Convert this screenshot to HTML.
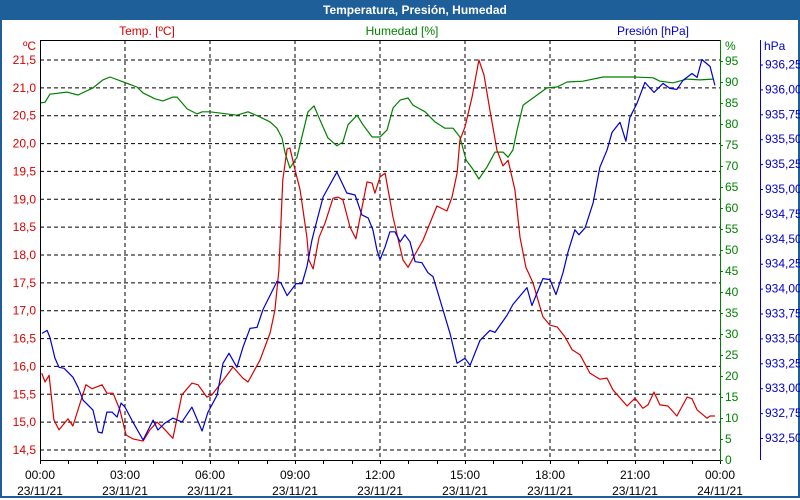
<!DOCTYPE html>
<html><head><meta charset="utf-8">
<style>
html,body{margin:0;padding:0;background:#fff;}
body{width:800px;height:500px;overflow:hidden;font-family:"Liberation Sans",Tahoma,sans-serif;}
#frame{position:absolute;left:0;top:0;width:796px;height:496px;border:2px solid #1f5f99;border-top:none;}
#titlebar{position:absolute;left:0;top:0;width:800px;height:20px;background:#1f5f99;color:#fff;font-weight:bold;font-size:12px;line-height:20px;text-align:center;}
</style></head><body>
<div id="frame"></div>
<div id="titlebar"><span style="position:absolute;left:323px">Temperatura, Presión, Humedad</span></div>
<svg id="chart" width="800" height="500" style="position:absolute;left:0;top:0" font-family="Liberation Sans, Tahoma, sans-serif" font-size="12"></svg>
<script>
const tempTimes=[0.06,0.18,0.32,0.49,0.67,0.99,1.16,1.62,1.84,2.19,2.36,2.58,2.82,3.04,3.28,3.64,3.88,4.13,4.34,4.69,5.01,5.36,5.58,5.89,6.07,6.42,6.81,7.16,7.34,7.76,8.12,8.29,8.43,8.57,8.72,8.82,9.0,9.18,9.42,9.49,9.64,9.85,10.06,10.34,10.52,10.69,10.94,11.15,11.54,11.72,11.82,12.0,12.18,12.46,12.81,12.99,13.16,13.52,14.01,14.36,14.54,14.72,14.82,15.0,15.25,15.49,15.67,15.88,16.13,16.34,16.52,16.76,16.94,17.15,17.4,17.75,18.0,18.25,18.53,18.78,19.06,19.41,19.76,20.01,20.22,20.72,21.0,21.28,21.46,21.67,21.88,22.16,22.48,22.84,23.01,23.19,23.54,23.65,23.82];
const tempValues=[15.88,15.72,15.84,15.04,14.86,15.06,14.93,15.67,15.6,15.67,15.52,15.52,15.22,14.77,14.7,14.66,14.86,15.0,14.9,14.71,15.49,15.7,15.67,15.45,15.49,15.72,15.99,15.79,15.72,16.11,16.6,17.01,17.73,19.35,19.9,19.92,19.53,19.17,18.32,17.91,17.75,18.32,18.57,19.02,19.04,18.99,18.5,18.29,19.31,19.29,19.11,19.4,19.47,18.68,17.91,17.78,17.94,18.27,18.88,18.79,19.04,19.47,20.06,20.3,20.84,21.5,21.23,20.6,19.88,19.6,19.7,19.17,18.32,17.78,17.5,16.89,16.74,16.71,16.53,16.3,16.21,15.88,15.77,15.79,15.58,15.29,15.43,15.25,15.31,15.54,15.31,15.29,15.11,15.45,15.42,15.22,15.07,15.11,15.11];
const humTimes=[0,0.18,0.35,0.95,1.34,1.87,2.22,2.47,3.42,3.64,4.06,4.34,4.69,4.84,5.19,5.54,5.72,6.0,6.95,7.34,7.76,8.12,8.36,8.54,8.65,8.82,9.07,9.28,9.46,9.67,9.88,10.16,10.48,10.69,10.87,11.19,11.4,11.72,12.0,12.25,12.46,12.71,12.99,13.16,13.59,13.94,14.29,14.58,14.82,15.04,15.25,15.49,15.78,16.06,16.34,16.52,16.69,16.84,17.05,17.4,17.89,18.25,18.6,19.16,19.87,20.93,21.64,21.88,22.34,22.84,23.29,23.75];
const humValues=[85.0,85.2,87.1,87.6,86.9,88.6,90.5,91.2,88.8,87.4,86.0,85.5,86.4,86.4,83.6,82.4,82.9,82.9,82.1,82.9,81.7,80.5,79.0,76.7,73.1,69.5,72.1,77.9,82.9,84.3,81.0,76.7,74.8,75.7,79.8,82.1,79.8,76.9,76.9,78.6,83.8,85.7,86.2,84.5,82.9,80.5,79.0,79.0,76.9,71.4,69.5,66.9,69.8,73.3,73.3,72.1,73.8,78.6,84.5,86.2,88.6,88.8,90.0,90.2,91.2,91.2,91.0,90.2,89.8,90.7,90.5,90.7];
const presTimes=[0.07,0.25,0.35,0.53,0.67,0.85,1.16,1.34,1.52,1.87,2.05,2.19,2.36,2.54,2.72,2.86,3.0,3.28,3.64,3.99,4.16,4.41,4.69,5.01,5.36,5.72,5.93,6.25,6.46,6.67,6.95,7.16,7.41,7.66,7.87,8.36,8.5,8.72,9.04,9.25,9.42,9.6,9.78,9.99,10.48,10.83,11.12,11.36,11.58,11.75,11.89,12.0,12.18,12.35,12.53,12.71,12.88,13.06,13.24,13.48,13.69,13.87,14.22,14.47,14.72,15.0,15.18,15.53,15.88,16.06,16.48,16.69,17.19,17.36,17.75,18.0,18.21,18.46,18.64,18.88,19.02,19.24,19.52,19.76,20.01,20.19,20.47,20.68,20.82,21.07,21.35,21.67,21.99,22.23,22.48,22.69,23.01,23.19,23.36,23.65,23.82];
const presValues=[933.55,933.58,933.51,933.30,933.21,933.20,933.11,933.01,932.88,932.78,932.56,932.55,932.76,932.76,932.71,932.85,932.81,932.66,932.48,932.68,932.58,932.65,932.70,932.66,932.81,932.57,932.76,932.93,933.25,933.35,933.21,933.41,933.60,933.61,933.79,934.07,934.06,933.93,934.05,934.05,934.22,934.49,934.69,934.92,935.17,934.96,934.94,934.74,934.71,934.59,934.39,934.29,934.42,934.57,934.57,934.47,934.54,934.47,934.27,934.26,934.16,934.12,933.79,933.55,933.25,933.30,933.23,933.48,933.58,933.56,933.73,933.84,934.01,933.83,934.10,934.09,933.94,934.16,934.37,934.59,934.54,934.61,934.86,935.22,935.39,935.57,935.67,935.48,935.72,935.86,936.07,935.97,936.06,936.01,936.00,936.09,936.16,936.12,936.30,936.23,936.04];
const timeLabels=["00:00","03:00","06:00","09:00","12:00","15:00","18:00","21:00","00:00"];
const dateLabels=["23/11/21","23/11/21","23/11/21","23/11/21","23/11/21","23/11/21","23/11/21","23/11/21","24/11/21"];
const tempTicks=[14.5,15,15.5,16,16.5,17,17.5,18,18.5,19,19.5,20,20.5,21,21.5];
const humTicks=[0,5,10,15,20,25,30,35,40,45,50,55,60,65,70,75,80,85,90,95];
const presTicks=[932.5,932.75,933,933.25,933.5,933.75,934,934.25,934.5,934.75,935,935.25,935.5,935.75,936,936.25];

const L=40,R=720,T=40,B=460;
const xS=h=>L+h*(R-L)/24;
const yT=v=>60+(21.5-v)*(390/7);
const yH=v=>460-v*4.2;
const yP=v=>438-(v-932.5)*99.6;
const RED="#d80000",GREEN="#008000",BLUE="#0000d0";
const svg=document.getElementById('chart');
const NS="http://www.w3.org/2000/svg";
function mk(tag,attrs,parent){const e=document.createElementNS(NS,tag);for(const k in attrs)e.setAttribute(k,attrs[k]);(parent||svg).appendChild(e);return e;}
function txt(s,x,y,anchor,fill,parent){const t=mk('text',{x:x,y:y,'text-anchor':anchor,fill:fill},parent);t.textContent=s;return t;}

// grid
const grid=mk('g',{});


tempTicks.forEach(v=>{const l=mk('line',{x1:L,x2:R,y1:yT(v),y2:yT(v),stroke:'#000','stroke-dasharray':'4,3','stroke-width':1},grid);

});
for(let i=1;i<8;i++){const x=xS(i*3);const l=mk('line',{x1:x,x2:x,y1:T,y2:B,stroke:'#000','stroke-dasharray':'4,3','stroke-width':1},grid);

}

// series
function series(times,vals,yf,color,name){const pts=times.map((t,i)=>xS(t).toFixed(1)+','+yf(vals[i]).toFixed(1)).join(' ');
const p=mk('polyline',{points:pts,fill:'none',stroke:color,'stroke-width':1.2,'stroke-linejoin':'round'});

}
series(humTimes,humValues,yH,GREEN,'humidity-line');
series(tempTimes,tempValues,yT,RED,'temperature-line');
series(presTimes,presValues,yP,BLUE,'pressure-line');

// axes
const ax=mk('g',{});


mk('line',{x1:L+0.5,x2:L+0.5,y1:T,y2:B+1,stroke:'#000'},ax);
mk('line',{x1:L,x2:R,y1:T+0.5,y2:T+0.5,stroke:'#000'},ax);
mk('line',{x1:L,x2:R,y1:B+0.5,y2:B+0.5,stroke:'#000'},ax);
mk('line',{x1:R+0.5,x2:R+0.5,y1:T,y2:B+1,stroke:GREEN},ax);
mk('line',{x1:760.5,x2:760.5,y1:T,y2:B,stroke:BLUE},ax);
for(let i=0;i<=24;i++){const x=Math.round(xS(i))+0.5;mk('line',{x1:x,x2:x,y1:B,y2:B+4,stroke:'#000'},ax);}

// tick labels
const tl=mk('g',{'font-size':12});


tempTicks.forEach(v=>txt(v.toFixed(1).replace('.',','),36,yT(v)+4,'end',RED,tl));
txt('ºC',36,50,'end',RED,tl);
const hl=mk('g',{});


humTicks.forEach(v=>{txt(String(v),725,yH(v)+4,'start',GREEN,hl);mk('line',{x1:R,x2:R+3,y1:yH(v)+0.5,y2:yH(v)+0.5,stroke:GREEN},hl);});
txt('%',725,50,'start',GREEN,hl);
const pl=mk('g',{});


presTicks.forEach(v=>{txt(v.toFixed(2).replace('.',','),765,yP(v)+4,'start',BLUE,pl);mk('line',{x1:760,x2:763,y1:yP(v)+0.5,y2:yP(v)+0.5,stroke:BLUE},pl);});
txt('hPa',764,50,'start',BLUE,pl);
const xl=mk('g',{});


timeLabels.forEach((s,i)=>{txt(s,xS(i*3),479,'middle','#000',xl);txt(dateLabels[i],xS(i*3),495,'middle','#000',xl);});

// legend labels
const lg=mk('g',{});


txt('Temp. [ºC]',147,35,'middle',RED,lg);
txt('Humedad [%]',402,35,'middle',GREEN,lg);
txt('Presión [hPa]',653,35,'middle',BLUE,lg);
</script>
</body></html>
